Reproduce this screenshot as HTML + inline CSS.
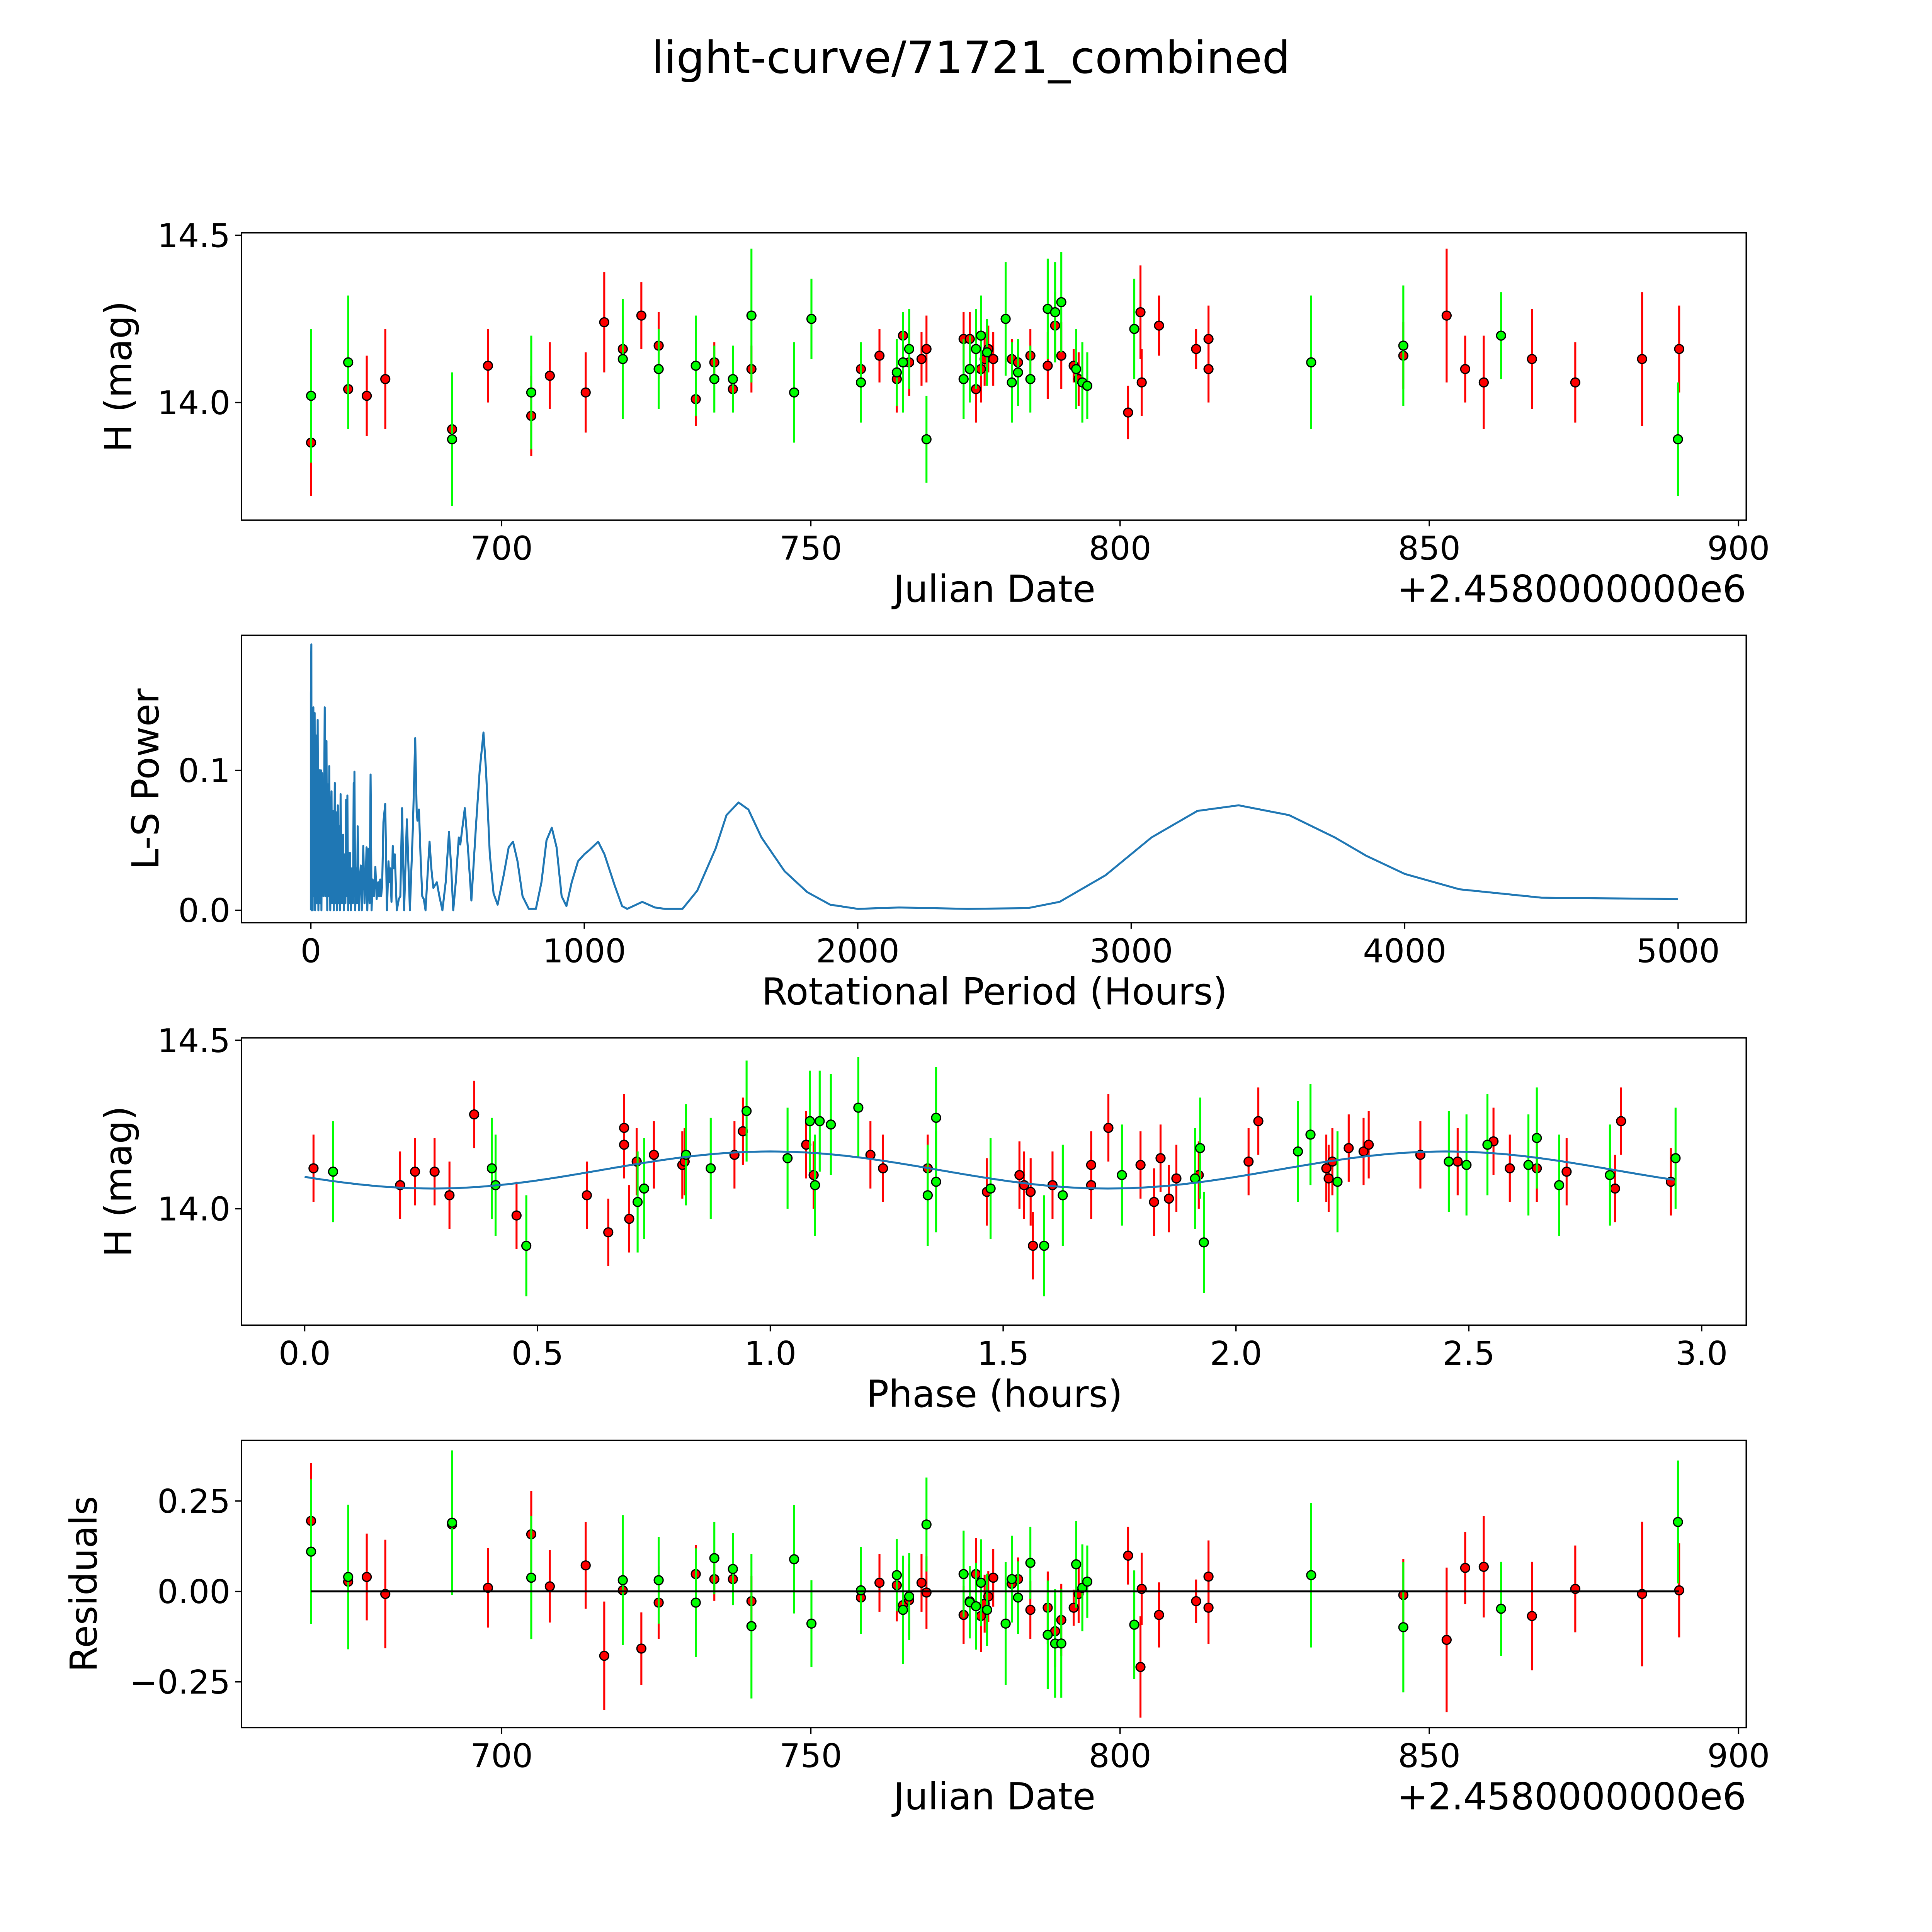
<!DOCTYPE html>
<html><head><meta charset="utf-8"><style>
html,body{margin:0;padding:0;background:#fff;overflow:hidden;width:100vw;height:100vh;}
svg{display:block;position:absolute;left:0;top:0;width:100vw;height:100vh;}
text{font-family:"DejaVu Sans","Liberation Sans",sans-serif;fill:#000;}
</style></head><body>
<svg id="fig" viewBox="0 0 1560 1560" preserveAspectRatio="xMidYMid meet" xmlns="http://www.w3.org/2000/svg">
<rect width="1560" height="1560" fill="#fff"/>
<text x="784" y="59" font-size="36" text-anchor="middle">light-curve/71721_combined</text>
</svg>
<script>
// ---- data: panel 1 / residuals (JD offset from 2458000) ----
const jdG=[669.2,675.2,692.0,704.8,719.6,725.4,731.4,734.4,737.4,740.4,747.3,750.1,758.1,763.9,764.9,765.9,768.7,774.7,775.7,776.7,777.5,778.5,781.5,782.5,783.5,785.5,788.3,789.5,790.5,792.9,793.9,794.7,802.3,830.9,845.8,861.6,890.2];
const magG=[14.02,14.12,13.89,14.03,14.13,14.10,14.11,14.07,14.07,14.26,14.03,14.25,14.06,14.09,14.12,14.16,13.89,14.07,14.10,14.16,14.20,14.15,14.25,14.06,14.09,14.07,14.28,14.27,14.30,14.10,14.06,14.05,14.22,14.12,14.17,14.20,13.89];
const errG=[0.2,0.2,0.2,0.17,0.18,0.12,0.15,0.1,0.1,0.2,0.15,0.12,0.12,0.1,0.15,0.12,0.13,0.12,0.1,0.12,0.12,0.1,0.17,0.12,0.1,0.1,0.15,0.15,0.15,0.12,0.12,0.1,0.15,0.2,0.18,0.13,0.17];
const resG=[0.11,0.04,0.19,0.038,0.031,0.031,-0.031,0.092,0.062,-0.096,0.089,-0.089,0.003,0.045,-0.051,-0.014,0.185,0.048,-0.03,-0.041,0.024,-0.051,-0.089,0.034,-0.017,0.079,-0.12,-0.144,-0.144,0.075,0.01,0.027,-0.092,0.045,-0.099,-0.048,0.192];
const jdR=[669.2,675.2,678.2,681.2,692.0,697.8,704.8,707.8,713.6,716.6,719.6,722.6,725.4,731.4,734.4,737.4,740.4,758.1,761.1,763.9,764.9,765.9,767.9,768.7,774.7,775.7,776.7,777.5,778.1,778.7,779.5,782.5,783.5,785.5,788.3,789.5,790.5,792.5,793.3,801.3,803.3,803.5,806.3,812.3,814.3,814.3,845.8,852.8,855.8,858.8,866.6,873.6,884.4,890.4];
const magR=[13.88,14.04,14.02,14.07,13.92,14.11,13.96,14.08,14.03,14.24,14.16,14.26,14.17,14.01,14.12,14.04,14.10,14.10,14.14,14.07,14.20,14.12,14.13,14.16,14.19,14.19,14.04,14.10,14.13,14.16,14.13,14.13,14.12,14.14,14.11,14.23,14.14,14.11,14.07,13.97,14.27,14.06,14.23,14.16,14.19,14.10,14.14,14.26,14.10,14.06,14.13,14.06,14.13,14.16];
const errR=[0.16,0.12,0.12,0.15,0.13,0.11,0.12,0.1,0.12,0.15,0.1,0.1,0.1,0.08,0.06,0.05,0.07,0.06,0.08,0.1,0.07,0.1,0.08,0.1,0.08,0.08,0.1,0.1,0.08,0.07,0.08,0.06,0.06,0.08,0.1,0.1,0.1,0.05,0.08,0.08,0.14,0.1,0.09,0.06,0.1,0.1,0.1,0.2,0.1,0.14,0.15,0.12,0.2,0.13];
const resR=[0.195,0.027,0.04,-0.007,0.185,0.01,0.158,0.014,0.072,-0.178,0.003,-0.158,-0.031,0.048,0.034,0.034,-0.027,-0.017,0.024,0.017,-0.038,-0.024,0.024,-0.003,-0.065,-0.027,0.048,-0.068,-0.034,-0.014,0.038,0.021,0.034,-0.051,-0.045,-0.11,-0.079,-0.045,-0.007,0.099,-0.209,0.007,-0.065,-0.027,0.041,-0.045,-0.01,-0.134,0.065,0.068,-0.068,0.007,-0.007,0.003];
// ---- data: phase-folded panel ----
const phR=[0.019,0.205,0.237,0.279,0.311,0.364,0.455,0.606,0.652,0.686,0.686,0.697,0.713,0.750,0.811,0.816,0.923,0.941,1.077,1.093,1.215,1.242,1.338,1.465,1.535,1.545,1.559,1.564,1.606,1.689,1.689,1.726,1.795,1.824,1.838,1.856,1.872,1.920,2.027,2.048,2.194,2.199,2.207,2.242,2.274,2.285,2.396,2.476,2.553,2.588,2.646,2.710,2.814,2.827,2.934];
const phMagR=[14.12,14.07,14.11,14.11,14.04,14.28,13.98,14.04,13.93,14.19,14.24,13.97,14.14,14.16,14.13,14.14,14.16,14.23,14.19,14.10,14.16,14.12,14.12,14.05,14.10,14.07,14.05,13.89,14.07,14.07,14.13,14.24,14.13,14.02,14.15,14.03,14.09,14.10,14.14,14.26,14.12,14.09,14.14,14.18,14.17,14.19,14.16,14.14,14.20,14.12,14.12,14.11,14.06,14.26,14.08];
const phG=[0.061,0.402,0.410,0.476,0.715,0.729,0.819,0.872,0.949,1.037,1.085,1.096,1.106,1.130,1.189,1.338,1.356,1.356,1.473,1.588,1.628,1.755,1.912,1.923,1.931,2.133,2.160,2.218,2.457,2.495,2.540,2.628,2.646,2.694,2.803,2.944];
const phMagG=[14.11,14.12,14.07,13.89,14.02,14.06,14.16,14.12,14.29,14.15,14.26,14.07,14.26,14.25,14.30,14.04,14.27,14.08,14.06,13.89,14.04,14.10,14.09,14.18,13.90,14.17,14.22,14.08,14.14,14.13,14.19,14.13,14.21,14.07,14.10,14.15];
const phErrR=0.1, phErrG=0.15;
const model=[14.115,0.055,1.45,1.0,2.94]; // mean, amplitude, period, phase of max, end
// ---- data: periodogram ----
const pgPeriod=[0,0,1.8,2.8,4.6,6.5,9.2,11.1,13.8,15.7,18.4,21.2,24.9,27.6,32.3,34.1,36.9,38.7,41.5,46.1,50.7,53.5,57.1,59.9,62.7,64.5,67.3,71.0,75.6,77.4,80.2,83.9,87.6,89.4,92.2,94.9,98.6,101.4,104.1,106,108.8,113.4,118,120.7,124.4,126.3,129,131.8,133.6,136.4,138.2,141,142.9,146.5,150.2,153.9,156.7,157.6,159.4,162.2,165.9,168.7,171.4,176,178.8,182.5,186.2,191.7,196.3,200,203.7,206.5,211.1,214.7,218.4,222.1,225.8,230.4,235.9,240.6,246.1,249.8,253.5,257.1,260.8,265.4,271.9,278.3,283.9,287.6,290.3,294.9,299.5,303.2,306.9,314.3,321.7,327.2,333.6,341,351.2,362.2,373.3,381.6,387.1,389.9,395.4,400.9,407.4,412.9,419.4,426.7,434.1,440.6,447.9,460.8,470,481.1,493.1,505.1,513.4,520.7,529.9,541,546.5,563.1,576,587.1,603.7,617.5,631.3,640.6,654.4,668.2,683,705.1,723.5,739.2,755.8,774.2,797.2,823,843.3,861.8,881.1,898.6,917.1,934.6,953.9,977,1000,1018.4,1050.7,1073.7,1110.6,1138.2,1156.7,1212,1258,1295,1359,1413,1480,1520,1564,1600,1648,1732,1815,1899,2000,2151,2403,2621,2738,2906,3074,3242,3393,3577,3745,3859,4000,4200,4500,5000];
const pgPower=[0,0.155,0.19,0,0.12,0,0.145,0.01,0.141,0,0.125,0.005,0.136,0,0.10,0.005,0.10,0,0.098,0.01,0.145,0.01,0.121,0,0.09,0.01,0.103,0,0.085,0.005,0.071,0,0.091,0.005,0.07,0,0.075,0.005,0.06,0,0.083,0.005,0.054,0,0.04,0.005,0.079,0.01,0.082,0,0.041,0.005,0.041,0,0.03,0.005,0.091,0.01,0.099,0,0.03,0.005,0.06,0,0.02,0.032,0,0.046,0.005,0.02,0.045,0,0.044,0.005,0.097,0,0.022,0.01,0.031,0.008,0.02,0.01,0.022,0.01,0.018,0.063,0.076,0,0.035,0.02,0.03,0.006,0.046,0.03,0.04,0,0.008,0.01,0.073,0,0.065,0,0.06,0.123,0.07,0.064,0.072,0.04,0.01,0.008,0,0.025,0.049,0.03,0.016,0.02,0.01,0,0.02,0.056,0.03,0,0.02,0.052,0.047,0.073,0.04,0.007,0.06,0.1,0.127,0.1,0.04,0.012,0.004,0.025,0.045,0.049,0.035,0.01,0.001,0.001,0.02,0.05,0.059,0.045,0.01,0.003,0.02,0.035,0.040,0.043,0.049,0.04,0.018,0.003,0.001,0.006,0.002,0.001,0.001,0.014,0.044,0.068,0.077,0.072,0.052,0.028,0.013,0.004,0.001,0.002,0.001,0.0015,0.006,0.025,0.052,0.071,0.075,0.068,0.052,0.039,0.026,0.015,0.009,0.008];
// ---- tick labels ----
const jdTicks=[700,750,800,850,900];
const magTicks=[14.0,14.5];
const pgXTicks=[0,1000,2000,3000,4000,5000];
const pgYTicks=[0.0,0.1];
const phTicks=[0.0,0.5,1.0,1.5,2.0,2.5,3.0];
const resTicks=[-0.25,0.00,0.25];

const NS='http://www.w3.org/2000/svg';
const svg=document.getElementById('fig');
function mk(tag,attrs,parent){const e=document.createElementNS(NS,tag);for(const k in attrs)e.setAttribute(k,attrs[k]);(parent||svg).appendChild(e);return e;}
function lin(d0,d1,r0,r1){return v=>r0+(v-d0)*(r1-r0)/(d1-d0);}
const L=195,R=1410;
function axes(name,top,bot,sx,sy,xt,yt,xfmt,yfmt,xlabel,ylabel,ylx,offset){
  const g=mk('g',{});
  
  
  xt.forEach(t=>{const x=sx(t);mk('line',{x1:x,x2:x,y1:bot,y2:bot+5,stroke:'#000','stroke-width':1.1},g);
    const tx=mk('text',{x:x,y:bot+32,'font-size':26.5,'text-anchor':'middle'},g);tx.textContent=xfmt(t);
    });
  yt.forEach(t=>{const y=sy(t);mk('line',{x1:L-5,x2:L,y1:y,y2:y,stroke:'#000','stroke-width':1.1},g);
    const tx=mk('text',{x:L-9,y:y+9.5,'font-size':26.5,'text-anchor':'end'},g);tx.textContent=yfmt(t);
    });
  const xl=mk('text',{x:803,y:bot+66,'font-size':30,'text-anchor':'middle'},g);xl.textContent=xlabel;
  
  const cy=(top+bot)/2;
  const yl=mk('text',{x:ylx,y:cy,'font-size':30,'text-anchor':'middle',transform:`rotate(-90 ${ylx} ${cy})`},g);yl.textContent=ylabel;
  
  if(offset){const o=mk('text',{x:R,y:bot+66,'font-size':30,'text-anchor':'end'},g);o.textContent=offset;
    }
  return g;
}
function frame(top,bot){const f=mk('rect',{x:L,y:top,width:R-L,height:bot-top,fill:'none',stroke:'#000','stroke-width':1.1});
  }
function points(xs,ys,es,sx,sy,color,name){
  const g=mk('g',{});
  
  
  xs.forEach((x,i)=>{const e=Array.isArray(es)?es[i]:es;const px=sx(x);
    const l=mk('line',{x1:px,x2:px,y1:sy(ys[i]-e),y2:sy(ys[i]+e),stroke:color,'stroke-width':1.6},g);
    });
  xs.forEach((x,i)=>{const c=mk('circle',{cx:sx(x),cy:sy(ys[i]),r:3.6,fill:color,stroke:'#000','stroke-width':1},g);
    });
}
const fmt0=t=>String(t), fmt1=t=>t.toFixed(1), fmt2=t=>t.toFixed(2).replace('-','\u2212');
const sxJD=lin(700,900,405,1403.8);

// Panel 1
{const top=188,bot=420;const sy=lin(14.0,14.5,325,190);
 axes('light-curve-axes',top,bot,sxJD,sy,jdTicks,magTicks,fmt0,fmt1,'Julian Date','H (mag)',106,'+2.4580000000e6');
 points(jdR,magR,errR,sxJD,sy,'#ff0000','red-band-points');
 points(jdG,magG,errG,sxJD,sy,'#00ff00','green-band-points');
 frame(top,bot);}
// Panel 2
{const top=513,bot=745;const sx=lin(0,5000,251,1355);const sy=lin(0,0.1,735,622);
 axes('periodogram-axes',top,bot,sx,sy,pgXTicks,pgYTicks,fmt0,fmt1,'Rotational Period (Hours)','L-S Power',128,null);
 const p=mk('polyline',{points:pgPeriod.map((v,i)=>sx(v).toFixed(2)+','+sy(pgPower[i]).toFixed(2)).join(' '),fill:'none',stroke:'#1f77b4','stroke-width':1.6,'stroke-linejoin':'round'});
 
 frame(top,bot);}
// Panel 3
{const top=838,bot=1070;const sx=lin(0,3,246,1374);const sy=lin(14.0,14.5,976,840);
 axes('phase-axes',top,bot,sx,sy,phTicks,magTicks,fmt1,fmt1,'Phase (hours)','H (mag)',106,null);
 points(phR,phMagR,phErrR,sx,sy,'#ff0000','red-phase-points');
 points(phG,phMagG,phErrG,sx,sy,'#00ff00','green-phase-points');
 const pts=[];for(let k=0;k<=300;k++){const ph=model[4]*k/300;pts.push(sx(ph).toFixed(2)+','+sy(model[0]+model[1]*Math.cos(2*Math.PI*(ph-model[3])/model[2])).toFixed(2));}
 const m=mk('polyline',{points:pts.join(' '),fill:'none',stroke:'#1f77b4','stroke-width':1.6});
 
 frame(top,bot);}
// Panel 4
{const top=1163,bot=1395;const sy=lin(0,0.25,1285,1212);
 axes('residuals-axes',top,bot,sxJD,sy,jdTicks,resTicks,fmt0,fmt2,'Julian Date','Residuals',78,'+2.4580000000e6');
 points(jdR,resR,errR,sxJD,sy,'#ff0000','red-residual-points');
 points(jdG,resG,errG,sxJD,sy,'#00ff00','green-residual-points');
 const z=mk('line',{x1:sxJD(669.2),x2:sxJD(890.4),y1:sy(0),y2:sy(0),stroke:'#000','stroke-width':1.6});
 
 frame(top,bot);}
</script>
</body></html>
